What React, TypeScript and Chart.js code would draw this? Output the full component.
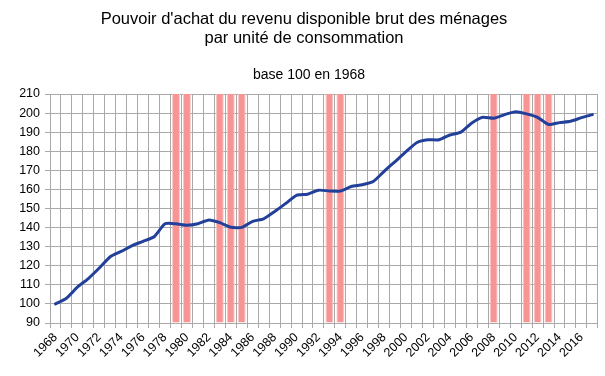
import React, { useEffect, useRef } from 'react';
import { Chart, registerables } from 'chart.js';

Chart.register(...registerables);

const years: string[] = [
  '1968', '1969', '1970', '1971', '1972', '1973', '1974', '1975', '1976', '1977',
  '1978', '1979', '1980', '1981', '1982', '1983', '1984', '1985', '1986', '1987',
  '1988', '1989', '1990', '1991', '1992', '1993', '1994', '1995', '1996', '1997',
  '1998', '1999', '2000', '2001', '2002', '2003', '2004', '2005', '2006', '2007',
  '2008', '2009', '2010', '2011', '2012', '2013', '2014', '2015', '2016', '2017',
];

const purchasingPower: number[] = [
  100, 103, 108.8, 113.3, 118.8, 124.7, 127.5, 130.6, 132.8, 135.2,
  142, 142, 141.2, 142, 144, 142.6, 140.2, 140.1, 143.3, 144.6,
  148.4, 152.6, 156.9, 157.5, 159.6, 159.2, 159.2, 161.5, 162.4, 164.1,
  169.5, 174.6, 179.8, 184.6, 186, 186, 188.5, 190, 194.8, 197.8,
  197.3, 199.2, 200.7, 199.6, 197.8, 194, 195, 195.7, 197.6, 199.2,
];

const highlightedYears: string[] = [
  '1979', '1980', '1983', '1984', '1985', '1993', '1994', '2008', '2011', '2012', '2013',
];

const titleLines: string[] = [
  "Pouvoir d'achat du revenu disponible brut des ménages",
  'par unité de consommation',
];
const subtitleText = 'base 100 en 1968';

const Y_MIN = 90;
const Y_MAX = 210;
const Y_STEP = 10;

const FONT = "'Liberation Sans', Arial, sans-serif";

const titlePlugin = {
  id: 'customTitles',
  afterDraw(chart: any) {
    const ctx = chart.ctx;
    ctx.save();
    ctx.fillStyle = '#000';
    ctx.textAlign = 'center';
    ctx.textBaseline = 'alphabetic';
    ctx.font = `16.5px ${FONT}`;
    ctx.fillText(titleLines[0], 304, 23.5);
    ctx.fillText(titleLines[1], 304, 42.5);
    ctx.font = `14px ${FONT}`;
    ctx.fillText(subtitleText, 309, 79);
    ctx.restore();
  },
};

export default function App() {
  const canvasRef = useRef<HTMLCanvasElement | null>(null);

  useEffect(() => {
    if (!canvasRef.current) return;
    const barData = years.map((y) => (highlightedYears.includes(y) ? Y_MAX : null));
    const chart = new Chart(canvasRef.current, {
      type: 'bar',
      data: {
        labels: years,
        datasets: [
          {
            type: 'line',
            label: 'Pouvoir d\'achat',
            data: purchasingPower,
            borderColor: '#22409a',
            backgroundColor: '#22409a',
            borderWidth: 3,
            pointRadius: 0,
            tension: 0.2,
            borderJoinStyle: 'round',
            borderCapStyle: 'round',
            order: 0,
          } as any,
          {
            type: 'bar',
            label: 'highlight',
            data: barData,
            base: Y_MIN,
            backgroundColor: '#f79494',
            borderColor: '#fbc4c4',
            borderWidth: { left: 1, right: 1, top: 0, bottom: 0 },
            borderSkipped: false,
            barPercentage: 0.72,
            categoryPercentage: 1,
            order: 1,
          } as any,
        ],
      },
      options: {
        responsive: false,
        animation: false,
        devicePixelRatio: 1,
        layout: { padding: { top: 94, right: 4, bottom: 0, left: 0 } },
        plugins: {
          legend: { display: false },
          title: { display: false },
          tooltip: { enabled: false },
        },
        scales: {
          x: {
            offset: true,
            grid: {
              offset: true,
              color: '#aaaaaa',
              lineWidth: 1,
              drawTicks: true,
              tickLength: 5,
            },
            border: { color: '#aaaaaa' },
            ticks: {
              autoSkip: false,
              maxRotation: 45,
              minRotation: 45,
              color: '#000',
              padding: 2,
              font: { family: FONT, size: 12.5 },
              callback: (_v: any, i: number) => (i % 2 === 0 ? years[i] : ''),
            },
            afterFit: (scale: any) => {
              scale.height = 53;
            },
          },
          y: {
            min: Y_MIN,
            max: Y_MAX,
            grid: { color: '#aaaaaa', lineWidth: 1, tickLength: 5 },
            border: { color: '#aaaaaa' },
            ticks: {
              stepSize: Y_STEP,
              color: '#000',
              padding: 5,
              font: { family: FONT, size: 12.5 },
            },
            afterFit: (scale: any) => {
              scale.width = 50;
            },
          },
        },
      },
      plugins: [titlePlugin],
    });
    return () => chart.destroy();
  }, []);

  return (
    <div style={{ position: 'fixed', left: 0, top: 0, width: 605, height: 376, background: '#fff' }}>
      <canvas ref={canvasRef} width={605} height={376} />
    </div>
  );
}
